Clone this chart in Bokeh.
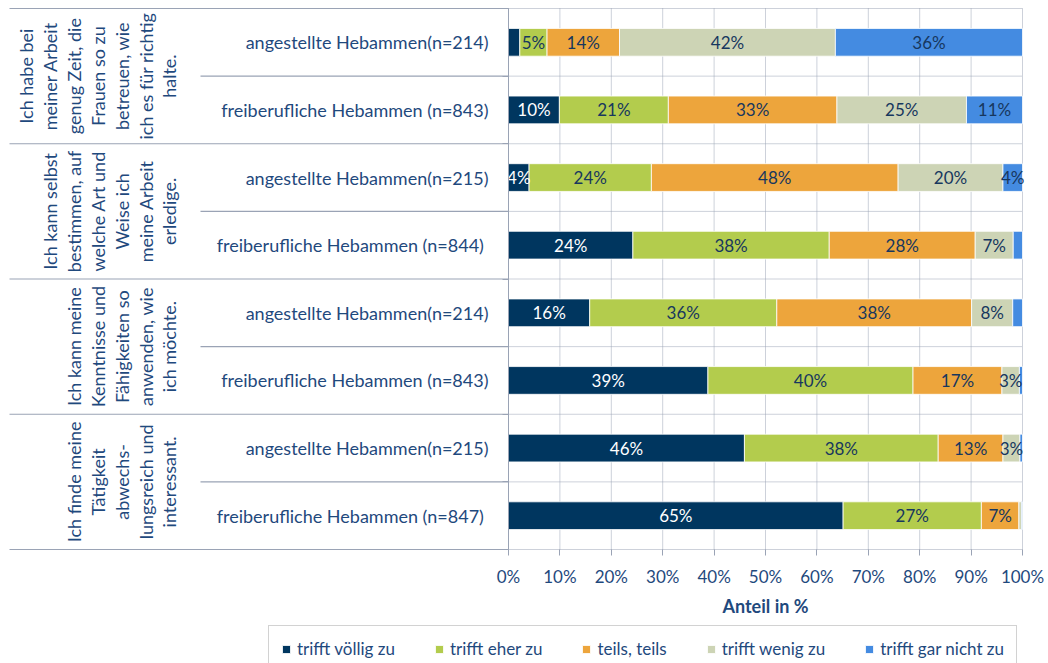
import math
from bokeh.plotting import figure
from bokeh.models import (Range1d, FixedTicker, PrintfTickFormatter, LinearAxis,
                          Legend, LegendItem, ColumnDataSource)
from bokeh.core.properties import value
from bokeh.embed import file_html
from bokeh.resources import INLINE

# ---------------- data ----------------
questions = [
    "Ich habe bei\nmeiner Arbeit\ngenug Zeit, die\nFrauen so zu\nbetreuen, wie\nich es für richtig\nhalte.",
    "Ich kann selbst\nbestimmen, auf\nwelche Art und\nWeise ich\nmeine Arbeit\nerledige.",
    "Ich kann meine\nKenntnisse und\nFähigkeiten so\nanwenden, wie\nich möchte.",
    "Ich finde meine\nTätigkeit\nabwechs-\nlungsreich und\ninteressant.",
]
row_labels = [
    "angestellte Hebammen(n=214)",
    "freiberufliche Hebammen (n=843)",
    "angestellte Hebammen(n=215)",
    "freiberufliche Hebammen  (n=844)",
    "angestellte Hebammen(n=214)",
    "freiberufliche Hebammen (n=843)",
    "angestellte Hebammen(n=215)",
    "freiberufliche Hebammen  (n=847)",
]
series = ["trifft völlig zu", "trifft eher zu", "teils, teils", "trifft wenig zu", "trifft gar nicht zu"]
voellig = [2.2, 9.9, 4.0, 24.2, 15.8, 38.8, 45.9, 65.1]
eher = [5.3, 21.2, 23.8, 38.2, 36.4, 39.9, 37.7, 26.9]
teils = [14.1, 32.8, 48.0, 28.4, 37.9, 17.3, 12.6, 7.3]
wenig = [42.0, 25.2, 20.4, 7.4, 8.0, 3.4, 3.3, 0.5]
garnicht = [36.4, 10.9, 3.8, 1.8, 1.9, 0.6, 0.5, 0.2]
x_ticks = [0, 10, 20, 30, 40, 50, 60, 70, 80, 90, 100]

colors = ["#00365F", "#B3CC4D", "#EDA53C", "#CDD4B5", "#448BE1"]
label_colors = ["#FFFFFF", "#17375E", "#17375E", "#17375E", "#17375E"]
TXT = "#1F497D"
LINE = "#9AA3B5"
FONT = "Lato"

all_series = [voellig, eher, teils, wenig, garnicht]
n_rows = len(row_labels)
n_groups = len(questions)
rows = [i + 0.5 for i in range(n_rows)]

# ---------------- layout (pixels) ----------------
W, H = 1048, 663
AX_LEFT, AX_RIGHT = 508, 1022        # 0 % and 100 %
TOP_PX, BOT_PX = 8, 549              # first / last category boundary
FRAME_L, FRAME_R, FRAME_T, FRAME_B = 0, W, 0, H
XPX = (AX_RIGHT - AX_LEFT) / 100.0
YPX = (BOT_PX - TOP_PX) / n_rows
x_range = Range1d(-(AX_LEFT - FRAME_L) / XPX, 100 + (FRAME_R - AX_RIGHT) / XPX)
y_range = Range1d(n_rows + (FRAME_B - BOT_PX) / YPX, -(TOP_PX - FRAME_T) / YPX)

p = figure(width=W, height=H, x_range=x_range, y_range=y_range,
           x_axis_location=None, y_axis_location=None,
           output_backend="svg", toolbar_location=None,
           min_border_left=FRAME_L, min_border_right=W - FRAME_R,
           min_border_top=FRAME_T, min_border_bottom=H - FRAME_B)
p.outline_line_color = None
p.grid.visible = False

# dotted grid lines of the plot area
p.segment(x0=x_ticks, x1=x_ticks, y0=0, y1=n_rows, line_color=LINE, line_dash="1 1", line_width=1)
bounds_y = list(range(n_rows + 1))
p.segment(x0=0, x1=100, y0=bounds_y, y1=bounds_y, line_color=LINE, line_dash="1 1", line_width=1)

# table lines on the left (group boundaries long, row boundaries short)
grp_y = [2 * g for g in range(n_groups + 1)]
row_y = [2 * g + 1 for g in range(n_groups)]
p.segment(x0=-(AX_LEFT - 9) / XPX, x1=0, y0=grp_y, y1=grp_y, line_color=LINE, line_width=1.2)
p.segment(x0=-(AX_LEFT - 200) / XPX, x1=0, y0=row_y, y1=row_y, line_color=LINE, line_width=1.2)

# stacked bars (normalised to 100 %)
totals = [sum(s[i] for s in all_series) for i in range(n_rows)]
lefts = [0.0] * n_rows
renderers = []
tx, ty, tt, tc = [], [], [], []
for k, s in enumerate(all_series):
    left = list(lefts)
    right = [left[i] + 100.0 * s[i] / totals[i] for i in range(n_rows)]
    src = ColumnDataSource(dict(y=rows, left=left, right=right))
    r = p.hbar(y="y", left="left", right="right", height=0.41, source=src,
               fill_color=colors[k], line_color="white", line_width=0.8)
    renderers.append(r)
    for i in range(n_rows):
        if round(s[i]) >= 3:
            tx.append((left[i] + right[i]) / 2)
            ty.append(rows[i])
            tt.append(f"{round(s[i])}%")
            tc.append(label_colors[k])
    lefts = right

lab_src = ColumnDataSource(dict(x=tx, y=ty, t=tt, c=tc))
p.text(x="x", y="y", text="t", text_color="c", source=lab_src,
       text_font=value(FONT), text_font_size="17px",
       text_align="center", text_baseline="middle")

# category labels
p.text(x=[0] * n_rows, y=rows, text=row_labels, x_offset=-20,
       text_font=value(FONT), text_font_size="18px", text_color=TXT,
       text_align="right", text_baseline="middle")

# question labels (rotated)
p.text(x=[0] * n_groups, y=[2 * g + 1 for g in range(n_groups)], text=questions,
       x_offset=-(AX_LEFT - 180), angle=math.pi / 2,
       text_font=value(FONT), text_font_size="18px", text_color=TXT,
       text_align="center", text_baseline="bottom", text_line_height=1.09)

# x axis (fixed at the bottom of the last category)
xaxis = LinearAxis(fixed_location=n_rows, bounds=(0, 100), ticker=FixedTicker(ticks=x_ticks),
                   formatter=PrintfTickFormatter(format="%d%%"))
xaxis.axis_line_color = None
xaxis.major_tick_in = 0
xaxis.major_tick_out = 6
xaxis.major_tick_line_color = LINE
xaxis.minor_tick_line_color = None
xaxis.major_label_standoff = 10
xaxis.major_label_text_font = FONT
xaxis.major_label_text_font_size = "17px"
xaxis.major_label_text_color = TXT
xaxis.axis_label = "Anteil in %"
xaxis.axis_label_text_font = FONT
xaxis.axis_label_text_font_style = "bold"
xaxis.axis_label_text_font_size = "18px"
xaxis.axis_label_text_color = TXT
xaxis.axis_label_standoff = 5
p.add_layout(xaxis, "below")

# y axis at 0 %
yaxis = LinearAxis(fixed_location=0, bounds=(0, n_rows), ticker=FixedTicker(ticks=bounds_y))
yaxis.major_label_overrides = {t: "" for t in bounds_y}
yaxis.major_label_text_font_size = "1px"
yaxis.major_tick_in = 0
yaxis.major_tick_out = 6
yaxis.minor_tick_line_color = None
yaxis.major_tick_line_color = LINE
yaxis.axis_line_color = LINE
p.add_layout(yaxis, "left")

legend = Legend(items=[LegendItem(label=series[k], renderers=[renderers[k]]) for k in range(5)],
                orientation="horizontal", location=(268, -9),
                label_text_font=FONT, label_text_font_size="17px", label_text_color=TXT,
                glyph_width=10, glyph_height=10, label_standoff=6, spacing=39,
                padding=12, margin=0, border_line_color="#A6A6A6",
                background_fill_color="white", background_fill_alpha=1.0)
p.add_layout(legend, "center")

open("out.html", "w").write(file_html(p, INLINE))
